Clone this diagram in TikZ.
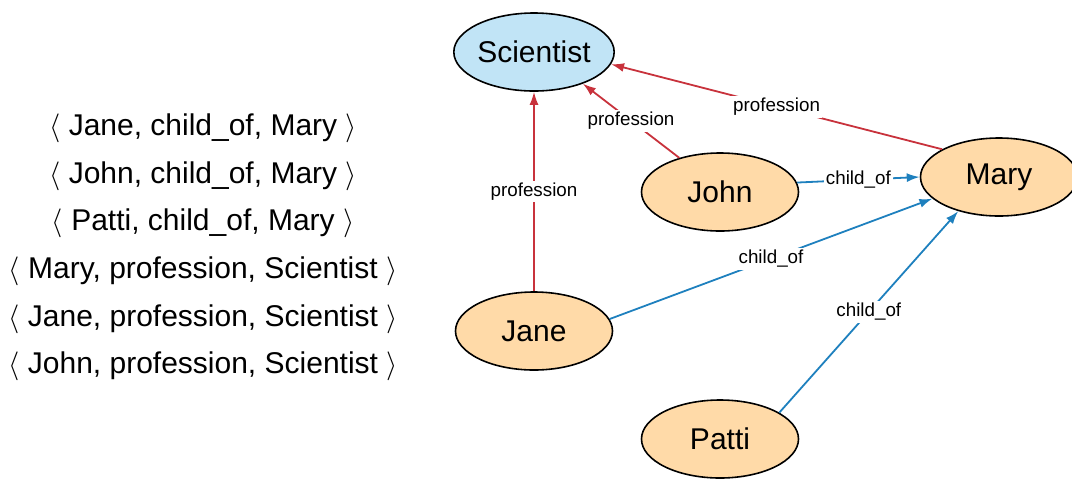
\documentclass[tikz,border=0pt]{standalone}
\usepackage{fontspec}
\setmainfont{Liberation Sans}
\usepackage{tikz}
\usetikzlibrary{shapes.geometric, arrows.meta}
\definecolor{rojo}{RGB}{200, 50, 60}
\definecolor{azul}{RGB}{30, 128, 190}
\definecolor{celeste}{RGB}{193, 228, 246}
\definecolor{naranja}{RGB}{255, 218, 168}

\tikzset{
	entity/.style={ellipse, draw, line width=0.8pt, minimum width=78.5pt,
		minimum height=39pt, inner sep=0pt, font=\fontsize{15}{18}\selectfont},
	relprof/.style={rojo, line width=0.9pt, -{Latex[length=6.5pt, width=4.5pt]}},
	relchild/.style={azul, line width=0.9pt, -{Latex[length=6.5pt, width=4.5pt]}},
	tag/.style={fill=white, inner sep=1pt, text=black, font=\fontsize{9.4}{11}\selectfont},
	triple/.style={font=\fontsize{15}{18}\selectfont}
}

\begin{document}
\begin{tikzpicture}[x=0.5pt, y=-0.5pt]
				\useasboundingbox (0,0) rectangle (1072,478);

				% triples
				\node[triple] (t1) at (203,128) {$\langle$ Jane, child\_of, Mary $\rangle$};
				\node[triple] (t2) at (203,176) {$\langle$ John, child\_of, Mary $\rangle$};
				\node[triple] (t3) at (203,223) {$\langle$ Patti, child\_of, Mary $\rangle$};
				\node[triple] (t4) at (203,271) {$\langle$ Mary, profession, Scientist $\rangle$};
				\node[triple] (t5) at (203,319) {$\langle$ Jane, profession, Scientist $\rangle$};
				\node[triple] (t6) at (203,366) {$\langle$ John, profession, Scientist $\rangle$};

				% graph
				\node[entity, fill=celeste] (scientist) at (534,52) {Scientist};
				\node[entity, fill=naranja] (john) at (720,192) {John};
				\node[entity, fill=naranja] (mary) at (999,177) {Mary};
				\node[entity, fill=naranja] (jane) at (534,331) {Jane};
				\node[entity, fill=naranja] (patti) at (720,439) {Patti};

				\draw[relprof] (jane) -- (scientist)
					node[tag, midway] {profession};
				\draw[relprof] (john.140) -- (scientist.327)
					node[tag, midway] {profession};
				\draw[relprof] (mary.154) -- (scientist.351)
					node[tag, midway] {profession};

				\draw[relchild] (john.7) -- (mary.180)
					node[tag, midway] {child\_of};
				\draw[relchild] (jane.9) -- (mary.198)
					node[tag, midway] {child\_of};
				\draw[relchild] (patti.24) -- (mary.220)
					node[tag, midway] {child\_of};
\end{tikzpicture}
\end{document}
